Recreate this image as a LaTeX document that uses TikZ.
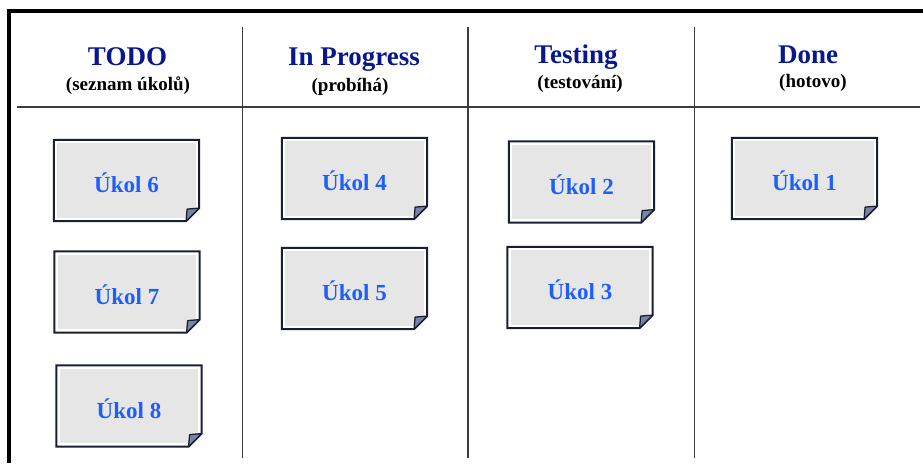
\documentclass[tikz,border=0pt]{standalone}
\usepackage{fontspec}
\setmainfont{Liberation Serif}

\definecolor{headblue}{RGB}{8,24,140}
\definecolor{ukolblue}{RGB}{30,95,250}
\definecolor{cardgray}{RGB}{230,230,230}
\definecolor{cardline}{RGB}{25,30,50}
\definecolor{flapfill}{RGB}{120,132,165}
\definecolor{gridgray}{RGB}{60,60,60}

\begin{document}
\begin{tikzpicture}[x=1pt,y=-1pt,
	head/.style={font=\fontsize{27}{30}\selectfont\bfseries, text=headblue, anchor=base},
	sub/.style={font=\fontsize{19}{21}\selectfont\bfseries, anchor=base},
	card/.style={fill=cardgray, draw=white, line width=1.2pt, minimum width=140, minimum height=76,
		inner sep=0pt, text height=24pt, text depth=0pt, text=ukolblue, font=\fontsize{23}{25}\selectfont\bfseries},
	rule/.style={draw=gridgray, line width=1.5pt}]
	\useasboundingbox (0,0) rectangle (923,463);

	% board frame and columns
	\draw[line width=4pt, miter limit=10] (8.5,463) -- (8.5,11) -- (923,11);
	\draw[rule] (17,107) -- (920,107);
	\foreach \x in {242.5,468,694.5}
		\draw[rule] (\x,27) -- (\x,458);

	\node[head]	(todo)		at (127.5,65)	{TODO};
	\node[sub]	(todosub)	at (128,90)	{(seznam úkolů)};
	\node[head]	(prog)		at (354,65)	{In Progress};
	\node[sub]	(progsub)	at (350,91.5)	{(probíhá)};
	\node[head]	(test)		at (576,63)	{Testing};
	\node[sub]	(testsub)	at (580,88)	{(testování)};
	\node[head]	(done)		at (808,63)	{Done};
	\node[sub]	(donesub)	at (813,87)	{(hotovo)};

	\node[card]	(u6)	at (126.5,180.5)	{Úkol 6};
	\node[card]	(u7)	at (127,292)	{Úkol 7};
	\node[card]	(u8)	at (129,406)	{Úkol 8};
	\node[card]	(u4)	at (354.5,178.5)	{Úkol 4};
	\node[card]	(u5)	at (354.5,288.5)	{Úkol 5};
	\node[card]	(u2)	at (581.5,182)	{Úkol 2};
	\node[card]	(u3)	at (580,287.5)	{Úkol 3};
	\node[card]	(u1)	at (804.5,178.5)	{Úkol 1};

	% outline with the folded corner
	\foreach \c in {u1,u2,u3,u4,u5,u6,u7,u8} {
		\fill[white] ([shift={(3pt,13pt)}]\c.south east) -- ([shift={(3pt,-3pt)}]\c.south east)
			-- ([shift={(-13pt,-3pt)}]\c.south east) -- cycle;
		\draw[cardline, line width=2pt, line join=miter]
			([shift={(-2pt,2pt)}]\c.north west) -- ([shift={(2pt,2pt)}]\c.north east)
			-- ([shift={(2pt,11pt)}]\c.south east) -- ([shift={(-11pt,-2pt)}]\c.south east)
			-- ([shift={(-2pt,-2pt)}]\c.south west) -- cycle;
		\filldraw[fill=flapfill, draw=cardline, line width=1.3pt, line join=round]
			([shift={(2pt,11pt)}]\c.south east) -- ([shift={(-11pt,-2pt)}]\c.south east)
			-- ([shift={(-10pt,10pt)}]\c.south east) -- cycle;
	}
\end{tikzpicture}
\end{document}
